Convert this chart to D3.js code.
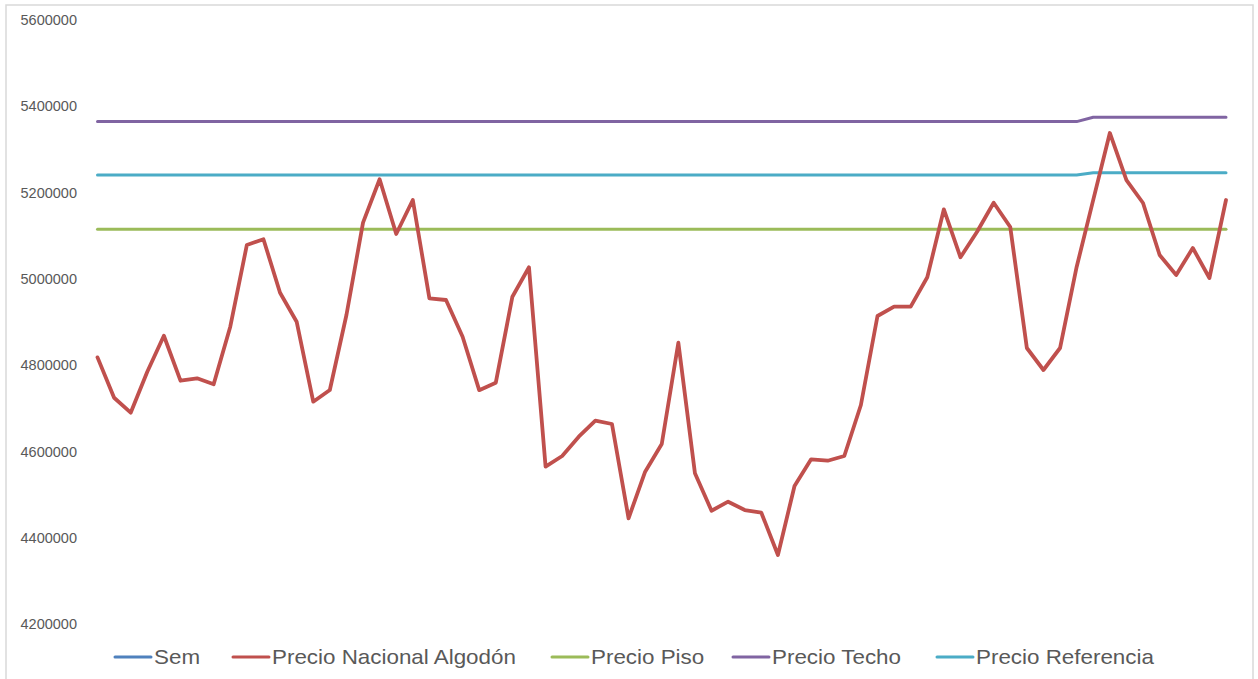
<!DOCTYPE html>
<html>
<head>
<meta charset="utf-8">
<script src="https://cdn.jsdelivr.net/npm/d3@7"></script>
<style>
  html, body { margin: 0; padding: 0; background: #ffffff; }
  svg { display: block; }
</style>
</head>
<body>
<svg id="chart" width="1258" height="679"></svg>
<script>
// ---- data ----
const precioNacional = [
  4818000, 4724500, 4689800, 4784800, 4868200, 4763900, 4769500, 4755600, 4889100, 5078500,
  5091700, 4967900, 4900700, 4715300, 4742400, 4916200, 5130200, 5230800, 5104000, 5182800,
  4954900, 4951000, 4865900, 4742000, 4759300, 4958600, 5026800, 4564600, 4589400, 4634100,
  4671200, 4663600, 4445000, 4553000, 4617200, 4852000, 4549300, 4462600, 4483500, 4464200,
  4458000, 4359900, 4519900, 4581700, 4578500, 4589400, 4707600, 4913900, 4935500, 4935500,
  5003600, 5161200, 5050000, 5109300, 5176500, 5120200, 4839700, 4788700, 4839700, 5027500,
  5183000, 5338100, 5229100, 5175800, 5055300, 5008900, 5071500, 5002000, 5182800
];
// flat reference lines: value before and after the change at week index 60
const precioPiso = precioNacional.map(() => 5115000);
const precioTecho = precioNacional.map((d, i) => i < 60 ? 5364500 : 5374500);
const precioReferencia = precioNacional.map((d, i) => i < 60 ? 5240500 : 5246000);
const categories = d3.range(precioNacional.length);
const yTicks = [4200000, 4400000, 4600000, 4800000, 5000000, 5200000, 5400000, 5600000];
const legendNames = ["Sem", "Precio Nacional Algodón", "Precio Piso", "Precio Techo", "Precio Referencia"];
const colors = ["#4f81bd", "#c0504d", "#9bbb59", "#8064a2", "#4bacc6"];

// ---- drawing ----
const svg = d3.select("#chart");

// outer frame
svg.append("rect")
  .attr("x", 6).attr("y", 5).attr("width", 1247).attr("height", 690)
  .attr("fill", "#fff").attr("stroke", "#d9d9d9").attr("stroke-width", 1.5);

const x = d3.scalePoint().domain(categories).range([97.5, 1226]);
const y = d3.scaleLinear().domain([4200000, 5600000]).range([624, 20]);

// y axis (labels only)
const yAxis = d3.axisLeft(y).tickValues(yTicks).tickSize(0).tickPadding(0)
  .tickFormat(d3.format("d"));
const gy = svg.append("g").attr("transform", "translate(77,0)").call(yAxis);
gy.select(".domain").remove();
gy.selectAll("text")
  .attr("fill", "#595959")
  .style("font-family", "'Liberation Sans', Arial, sans-serif")
  .style("font-size", "14.5px");

const line = d3.line().x((d, i) => x(categories[i])).y(d => y(d));

const series = [
  { values: precioPiso, color: colors[2], w: 3 },
  { values: precioReferencia, color: colors[4], w: 3 },
  { values: precioTecho, color: colors[3], w: 3 },
  { values: precioNacional, color: colors[1], w: 3.8 }
];
svg.append("g").selectAll("path").data(series).join("path")
  .attr("d", s => line(s.values))
  .attr("fill", "none")
  .attr("stroke", s => s.color)
  .attr("stroke-width", s => s.w)
  .attr("stroke-linejoin", "round")
  .attr("stroke-linecap", "round");

// legend
const legendX = [115, 233, 552, 733, 937];
const lg = svg.append("g");
legendNames.forEach((name, i) => {
  const g = lg.append("g").attr("transform", `translate(${legendX[i]},657)`);
  g.append("line").attr("x1", 0).attr("x2", 36).attr("y1", 0).attr("y2", 0)
    .attr("stroke", colors[i]).attr("stroke-width", 3).attr("stroke-linecap", "round");
  g.append("text").attr("transform", "translate(39,0) scale(1.12,1)")
    .attr("dy", "0.35em")
    .attr("fill", "#595959")
    .style("font-family", "'Liberation Sans', Arial, sans-serif")
    .style("font-size", "20px")
    .text(name);
});
</script>
</body>
</html>
